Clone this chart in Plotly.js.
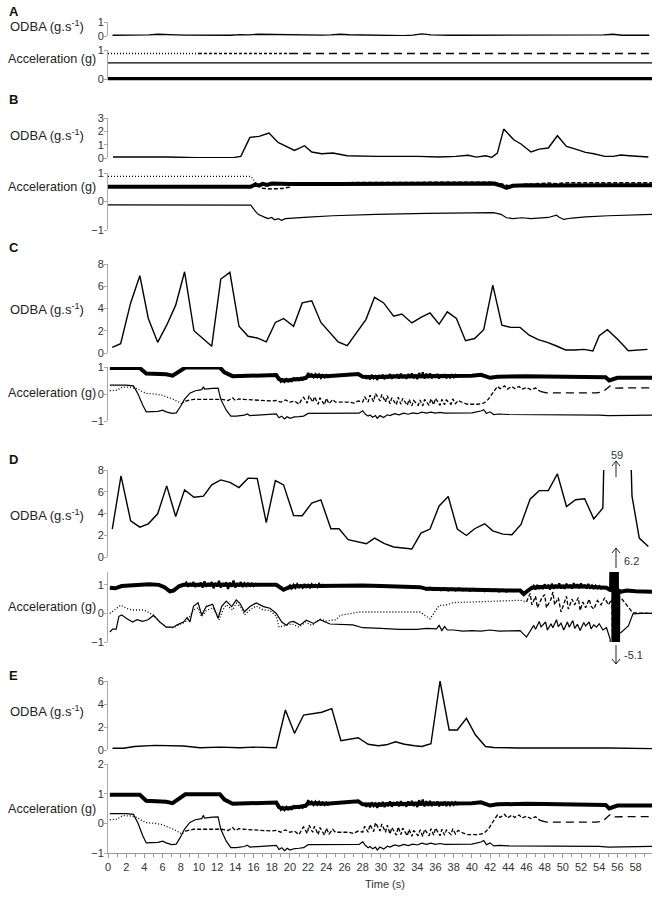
<!DOCTYPE html>
<html><head><meta charset="utf-8">
<script src="https://cdn.plot.ly/plotly-3.0.1.min.js"></script>
<style>html,body{margin:0;padding:0;background:#fff}</style>
</head><body><div id="chart" style="width:656px;height:897px"></div>
<script>
// ---------- DATA (time s, value) ----------
const odbaA = [[0.5,0.05],[1.5,0.05],[2.5,0.03],[3.5,0.04],[4.5,0.08],[5.5,0.12],[6.5,0.08],[7.5,0.08],[8.5,0.06],[9.5,0.05],
[10.5,0.05],[11.5,0.06],[12.5,0.06],[13.5,0.05],[14.5,0.1],[15.5,0.08],[16.5,0.13],[17.5,0.12],[18.5,0.06],[19.5,0.05],
[20.5,0.05],[21.5,0.05],[22.5,0.05],[23.5,0.06],[24.5,0.08],[25.5,0.12],[26.5,0.09],[27.5,0.08],[28.5,0.06],[29.5,0.05],
[30.5,0.04],[31.5,0.02],[32.5,0.03],[33.5,0.06],[34.5,0.15],[35.5,0.08],[36.5,0.09],[37.5,0.05],[38.5,0.05],[39.5,0.05],
[40.5,0.05],[41.5,0.05],[42.5,0.05],[43.5,0.06],[44.5,0.07],[45.5,0.08],[46.5,0.06],[47.5,0.05],[48.5,0.05],[49.5,0.05],
[50.5,0.05],[51.5,0.05],[52.5,0.05],[53.5,0.1],[54.5,0.08],[55.5,0.12],[56.5,0.05],[57.5,0.05],[58.5,0.05],[59.5,0.05]];
const accA_dot = [[0,0.88],[10,0.88]];
const accA_short = [[10,0.88],[20,0.88]];
const accA_dash = [[20,0.88],[59.8,0.88]];
const accA_thin = [[0,0.56],[59.8,0.56]];
const accA_thick = [[0,0],[59.8,0]];

const odbaB = [[0.55,0.08],[6.5,0.08],[9.7,0.02],[13.9,0.05],[14.6,0.12],[15.6,1.55],[16.6,1.62],[17.7,1.87],[18.7,1.17],[20.5,0.57],[21.6,0.92],[22.4,0.45],[23.5,0.32],[24.7,0.37],[26.3,0.17],[29.5,0.12],[34.1,0.12],[36.4,0.07],[38.2,0.12],[39.6,0.2],[40.5,0.07],[41.5,0.17],[42.2,0.05],[42.8,0.37],[43.5,2.17],[44.6,1.37],[45.4,1.05],[46.5,0.45],[47.4,0.67],[48.4,0.75],[49.4,1.67],[50.4,0.87],[51.4,0.67],[52.5,0.42],[53.4,0.32],[54.6,0.12],[55.5,0.12],[56.4,0.22],[57.3,0.17],[59.4,0.08]];
const accB_dot = [[0,0.88],[15.7,0.88],[16.0,0.76],[16.4,0.6]];
const accB_dash = [[16.4,0.6],[17,0.46],[18,0.44],[19.2,0.46],[19.9,0.5],[20.3,0.64],[25,0.66],[30,0.66],[35,0.67],[40,0.68],[42.4,0.68],[43.5,0.6],[44.2,0.54],[45,0.58],[47,0.63],[48.4,0.65],[49.3,0.62],[50,0.65],[52,0.66],[55,0.66],[59.8,0.66]];
const accB_thick = [[0,0.52],[15.7,0.52],[16.2,0.6],[16.6,0.56],[17,0.62],[17.5,0.58],[18,0.63],[19,0.62],[20,0.61],[25,0.61],[30,0.62],[35,0.62],[40,0.63],[42.4,0.63],[43.3,0.55],[43.8,0.48],[44.5,0.55],[46,0.57],[48,0.56],[50,0.57],[52,0.57],[55,0.57],[59.8,0.57]];
const accB_thin = [[0,-0.12],[15.7,-0.13],[16.1,-0.3],[16.5,-0.45],[17.2,-0.55],[17.6,-0.6],[18.0,-0.56],[18.3,-0.64],[18.7,-0.6],[19.1,-0.66],[19.5,-0.6],[20.3,-0.58],[22,-0.55],[24.7,-0.5],[29.5,-0.45],[35,-0.42],[42.4,-0.39],[43.2,-0.45],[43.8,-0.57],[44.5,-0.6],[45.5,-0.57],[46.5,-0.6],[48.4,-0.56],[49.3,-0.48],[49.6,-0.55],[50.1,-0.63],[51,-0.58],[52.5,-0.54],[55,-0.5],[59.8,-0.45]];

const odbaC = [[0.47,0.5],[1.39,0.84],[2.49,4.5],[3.5,6.95],[4.43,3.1],[5.46,0.96],[6.45,2.5],[7.44,4.3],[8.42,7.3],[9.45,2.0],[11.4,0.6],[12.4,6.65],[13.4,7.25],[14.4,2.4],[15.4,1.5],[16.4,1.35],[17.4,1.0],[18.4,2.75],[19.3,3.1],[20.4,2.4],[21.35,4.5],[22.4,4.7],[23.4,2.75],[24.4,1.85],[25.3,1.0],[26.3,0.66],[28.35,3.0],[29.3,5.0],[30.3,4.5],[31.4,3.3],[32.3,3.5],[33.4,2.7],[34.4,3.2],[35.4,3.6],[36.4,2.6],[37.3,3.7],[38.3,3.1],[39.3,1.1],[40.3,1.3],[41.3,2.1],[42.3,6.1],[43.3,2.5],[44.3,2.3],[45.3,2.3],[46.3,1.6],[47.3,1.2],[48.3,0.96],[49.3,0.63],[50.3,0.27],[51.3,0.27],[52.3,0.33],[53.3,0.18],[54.0,1.56],[54.9,2.1],[56.1,1.17],[57.2,0.2],[58.3,0.27],[59.3,0.33]];

// acceleration traces shared by panels C and E
const accCE_thick = [[0.2,0.96],[3.5,0.96],[4.2,0.76],[5.2,0.74],[5.8,0.76],[6.4,0.73],[7.1,0.68],[7.8,0.85],[8.5,0.98],[12.3,0.98],[12.8,0.8],[13.7,0.66],[16,0.68],[18.5,0.7],[18.8,0.55],[19.2,0.5],[19.6,0.51],[20,0.51],[20.5,0.55],[21,0.55],[21.7,0.59],[22.1,0.7],[22.5,0.67],[23,0.68],[24,0.66],[25,0.68],[26,0.68],[27,0.7],[27.5,0.74],[28,0.64],[29,0.62],[30,0.63],[31,0.65],[32,0.65],[33,0.66],[34,0.66],[34.7,0.68],[35.5,0.66],[36.5,0.65],[37.5,0.66],[38.5,0.67],[40,0.68],[41,0.71],[41.6,0.66],[42,0.6],[42.8,0.64],[44,0.66],[46,0.66],[48,0.65],[50,0.65],[52,0.65],[54,0.65],[54.7,0.62],[55.1,0.5],[55.5,0.54],[56,0.6],[58,0.6],[59.8,0.6]];
const accCE_noise = [[18.8,0.56],[19.0,0.46],[19.2,0.54],[19.4,0.45],[19.6,0.55],[19.8,0.47],[20.0,0.54],[20.2,0.48],[20.4,0.58],[20.6,0.52],[20.8,0.58],[21.0,0.52],[21.2,0.59],[21.4,0.53],[21.6,0.6],[21.8,0.58],[22.0,0.78],[22.2,0.62],[22.4,0.72],[22.6,0.62],[22.8,0.73],[23.0,0.63],[23.2,0.72],[23.4,0.6],[23.6,0.7],[23.8,0.62],[24.0,0.7],[24.2,0.63],[24.4,0.68],[null,null],
[28.2,0.70],[28.4,0.56],[28.6,0.68],[28.8,0.54],[29.0,0.71],[29.2,0.58],[29.4,0.66],[29.6,0.52],[29.8,0.70],[30.0,0.57],[30.2,0.72],[30.4,0.55],[30.6,0.69],[30.8,0.58],[31.0,0.74],[31.2,0.56],[31.4,0.71],[31.6,0.60],[31.8,0.73],[32.0,0.57],[32.2,0.75],[32.4,0.59],[32.6,0.70],[32.8,0.56],[33.0,0.74],[33.2,0.60],[33.4,0.76],[33.6,0.58],[33.8,0.72],[34.0,0.55],[34.2,0.78],[34.4,0.60],[34.6,0.80],[34.8,0.57],[35.0,0.75],[35.2,0.59],[35.4,0.76],[35.6,0.58],[35.8,0.72],[36.0,0.60],[36.2,0.74],[36.4,0.57],[36.6,0.71],[36.8,0.60],[37.0,0.73],[37.2,0.58],[37.4,0.72],[37.6,0.61],[37.8,0.70],[38.0,0.62],[38.2,0.71],[38.4,0.64],[38.6,0.68]];
const accCE_thin = [[0.2,0.33],[2.0,0.33],[2.8,0.3],[3.3,0.0],[3.8,-0.4],[4.2,-0.66],[5.5,-0.64],[6.0,-0.6],[6.4,-0.66],[7.0,-0.72],[7.5,-0.7],[7.9,-0.5],[8.4,-0.2],[9.0,0.03],[9.6,0.12],[10.3,0.16],[10.5,0.27],[10.6,0.18],[11.5,0.21],[12.1,0.22],[12.4,-0.2],[13.0,-0.6],[13.5,-0.82],[14.1,-0.82],[15,-0.78],[15.3,-0.74],[15.6,-0.8],[17,-0.76],[18.5,-0.74],[18.8,-0.88],[19.1,-0.82],[19.4,-0.92],[19.7,-0.84],[20,-0.9],[20.5,-0.85],[21,-0.84],[21.5,-0.82],[22,-0.72],[23,-0.72],[24.4,-0.71],[27.6,-0.71],[28,-0.62],[28.3,-0.75],[28.6,-0.82],[28.8,-0.78],[29.1,-0.86],[29.4,-0.8],[29.6,-0.9],[29.9,-0.8],[30.3,-0.87],[30.7,-0.77],[31,-0.8],[31.5,-0.73],[32,-0.77],[32.5,-0.71],[33,-0.75],[33.5,-0.7],[34,-0.73],[34.5,-0.67],[35,-0.71],[35.5,-0.67],[36,-0.71],[36.5,-0.68],[37,-0.71],[38,-0.7],[40,-0.7],[41,-0.63],[41.3,-0.58],[41.6,-0.72],[42,-0.66],[42.4,-0.76],[43,-0.74],[44,-0.76],[46,-0.76],[50,-0.76],[54,-0.78],[55,-0.8],[57,-0.79],[59.8,-0.78]];
const accCE_dot = [[0.2,0.12],[1.0,0.14],[1.6,0.26],[2.4,0.25],[3.2,0.2],[3.8,0.08],[4.3,0.02],[5.2,0.0],[6.0,-0.05],[6.6,-0.12],[7.2,-0.2],[7.8,-0.3],[8.1,-0.36],[8.5,-0.26]];
const accCE_mid = [[8.5,-0.26],[9.4,-0.2],[11,-0.2],[12.5,-0.2],[13.2,-0.24],[13.7,-0.14],[14,-0.24],[14.4,-0.18],[15,-0.2],[16,-0.22],[17,-0.24],[18,-0.26],[18.5,-0.24],[19,-0.3],[19.5,-0.22],[20,-0.3],[20.5,-0.26],[21,-0.38],[21.3,-0.2],[21.5,-0.12],[21.9,-0.34],[22.1,-0.06],[22.5,-0.3],[22.7,-0.1],[23.1,-0.38],[23.3,-0.14],[23.8,-0.4],[24,-0.16],[24.3,-0.36],[24.7,-0.2],[25,-0.3],[25.5,-0.3],[26,-0.32],[26.5,-0.3],[27,-0.34],[27.5,-0.26],[28,-0.3],[28.2,-0.1],[28.6,-0.3],[28.8,-0.04],[29.2,-0.28],[29.4,0.02],[29.9,-0.26],[30.1,-0.02],[30.5,-0.3],[30.7,-0.06],[31,-0.36],[31.2,-0.14],[31.7,-0.4],[31.9,-0.12],[32.2,-0.38],[32.4,-0.16],[32.9,-0.42],[33.1,-0.2],[33.4,-0.44],[33.6,-0.24],[34.1,-0.42],[34.3,-0.22],[34.6,-0.44],[34.8,-0.2],[35.3,-0.42],[35.5,-0.18],[35.8,-0.4],[36,-0.16],[36.5,-0.42],[36.7,-0.2],[37,-0.4],[37.2,-0.22],[37.7,-0.38],[37.9,-0.18],[38.2,-0.36],[38.5,-0.24],[39,-0.32],[39.5,-0.38],[40.6,-0.38],[41.3,-0.34],[41.8,-0.2],[42.2,0.0],[42.8,0.28],[43.1,0.2],[43.6,0.3],[43.9,0.18],[44.4,0.28],[44.7,0.2],[45.2,0.28],[45.5,0.18],[46,0.24],[46.5,0.16],[47,0.22],[47.5,0.1]];
const accCE_end = [[47.5,0.1],[48.2,0.04],[53.7,0.04],[54.4,0.08],[55.2,0.3],[55.7,0.22],[59.8,0.23]];

const odbaD = [[0.47,2.57],[1.43,7.46],[2.49,3.33],[3.5,2.75],[4.43,3.05],[5.46,3.97],[6.45,6.54],[7.44,3.73],[8.42,6.17],[9.45,5.5],[10.5,5.6],[11.4,6.63],[12.4,7.09],[13.4,6.87],[14.4,6.39],[15.4,7.25],[16.4,7.22],[17.4,3.17],[18.4,7.03],[19.3,6.63],[20.4,3.82],[21.35,3.8],[22.4,4.95],[23.4,5.26],[24.5,2.6],[25.4,2.6],[26.4,1.59],[28.4,1.22],[29.3,1.74],[30.4,1.22],[31.4,0.92],[33.4,0.73],[34.4,2.2],[35.4,2.57],[36.4,4.7],[37.4,5.56],[38.4,2.57],[39.4,1.98],[40.3,2.6],[41.4,3.05],[42.3,2.41],[43.4,2.1],[44.4,2.05],[45.4,3.0],[46.4,5.32],[47.4,6.1],[48.4,6.1],[49.4,7.64],[50.4,4.64],[51.4,5.26],[52.4,5.35],[53.4,3.51],[54.4,4.5],[55.8,59],[57.6,5.6],[58.4,1.74],[59.4,0.97]];
const accD_thick = [[0.2,0.9],[0.8,0.88],[1.5,0.96],[2.2,0.98],[3.5,1.0],[4.5,1.02],[5.6,1.0],[6.2,0.92],[6.8,0.77],[7.2,0.8],[7.8,0.95],[8.3,1.0],[12,1.0],[16,1.0],[18.5,1.0],[19.3,0.83],[19.8,0.9],[20.5,0.95],[22,0.96],[23.4,0.97],[24,0.97],[26,1.0],[28,0.98],[30,0.96],[32,0.93],[34.3,0.92],[35,0.86],[36,0.85],[38,0.84],[40,0.83],[42,0.82],[44,0.8],[45.3,0.8],[45.7,0.68],[46,0.76],[46.6,0.9],[48,0.93],[50,0.94],[52,0.95],[54.2,0.91],[54.8,0.9],[55.3,0.8],[55.5,6.2],[55.6,-5.1],[55.7,6.2],[55.8,-5.1],[55.9,6.2],[56.0,-5.1],[56.1,0.8],[56.4,0.76],[57,0.8],[58,0.78],[59,0.76],[59.8,0.76]];
const accD_noise = [[8.4,1.0],[8.6,1.08],[8.8,0.93],[9.0,1.06],[9.2,0.95],[9.4,1.1],[9.6,0.92],[9.8,1.05],[10.0,0.94],[10.2,1.08],[10.4,0.9],[10.6,1.12],[10.8,0.93],[11.0,1.06],[11.2,0.95],[11.4,1.1],[11.6,0.88],[11.8,1.07],[12.0,0.94],[12.2,1.14],[12.4,0.9],[12.6,1.06],[12.8,0.95],[13.0,1.09],[13.2,0.86],[13.4,1.08],[13.6,0.93],[13.8,1.15],[14.0,0.9],[14.2,1.06],[14.4,0.95],[14.6,1.1],[14.8,0.92],[15.0,1.05],[15.2,0.96],[15.4,1.07],[15.6,0.94],[15.8,1.04],[16.0,0.96],[16.2,1.03],[16.4,0.98],[16.6,1.02],[null,null],
[19.8,0.9],[20.0,0.98],[20.2,0.88],[20.4,1.0],[20.6,0.9],[20.8,1.02],[21.0,0.92],[21.2,0.99],[21.4,0.9],[21.6,1.03],[21.8,0.93],[22.0,1.0],[22.2,0.91],[22.4,1.02],[22.6,0.94],[22.8,1.0],[23.0,0.92],[23.2,1.03],[23.4,0.95],[23.6,1.0],[23.8,0.94],[24.0,0.99],[null,null],
[34.6,0.9],[35.0,0.84],[35.4,0.9],[35.8,0.82],[36.2,0.88],[36.6,0.81],[37.0,0.88],[37.4,0.8],[37.8,0.87],[38.2,0.8],[38.6,0.87],[39.0,0.81],[39.4,0.86],[39.8,0.79],[40.2,0.86],[40.6,0.79],[41.0,0.85],[41.4,0.78],[41.8,0.85],[42.2,0.78],[42.6,0.84],[43.0,0.77],[43.4,0.83],[43.8,0.77],[44.2,0.82],[44.6,0.78],[45.0,0.81],[null,null],
[46.6,0.86],[46.8,0.96],[47.0,0.84],[47.2,1.0],[47.4,0.86],[47.6,0.98],[47.8,0.85],[48.0,1.02],[48.2,0.88],[48.4,0.97],[48.6,0.84],[48.8,1.04],[49.0,0.86],[49.2,1.0],[49.4,0.88],[49.6,1.05],[49.8,0.87],[50.0,0.99],[50.2,0.86],[50.4,1.04],[50.6,0.9],[50.8,1.0],[51.0,0.87],[51.2,1.06],[51.4,0.9],[51.6,1.02],[51.8,0.88],[52.0,1.05],[52.2,0.9],[52.4,1.0],[52.6,0.87],[52.8,1.03],[53.0,0.9],[53.2,0.98],[53.4,0.86],[53.6,0.97],[53.8,0.88],[54.0,0.95],[54.2,0.87],[54.4,0.92]];
const accD_thin = [[0.2,-0.65],[0.5,-0.55],[0.9,-0.55],[1.2,-0.1],[1.5,-0.05],[2,-0.17],[2.7,-0.3],[3.2,-0.22],[3.8,-0.28],[4.4,-0.22],[5.0,-0.07],[5.4,-0.2],[5.7,-0.3],[6.4,-0.48],[7.2,-0.48],[7.6,-0.4],[8.3,-0.3],[8.7,-0.14],[9.0,-0.3],[9.4,0.25],[9.9,0.37],[10.3,-0.06],[10.8,0.24],[11.5,0.32],[11.8,0.1],[12.1,-0.17],[12.5,0.25],[13.0,0.43],[13.6,0.24],[14.1,0.47],[14.5,0.35],[15.0,0.06],[15.6,0.24],[16.3,0.37],[17.1,0.24],[17.8,0.18],[18.5,0.0],[19.1,-0.3],[19.6,-0.41],[20.0,-0.3],[20.4,-0.28],[21.1,-0.41],[21.8,-0.24],[22.6,-0.35],[23.3,-0.22],[24.0,-0.3],[24.4,-0.37],[26.9,-0.4],[28,-0.5],[30,-0.52],[32,-0.56],[34,-0.56],[35,-0.52],[36.1,-0.54],[36.4,-0.42],[36.7,-0.6],[37,-0.46],[37.3,-0.58],[38,-0.58],[39,-0.62],[40,-0.6],[41,-0.62],[42,-0.58],[43,-0.62],[44,-0.6],[45.3,-0.6],[46,-0.83],[46.5,-0.6],[46.8,-0.42],[47.0,-0.55],[47.4,-0.28],[47.6,-0.47],[48.1,-0.3],[48.3,-0.58],[48.7,-0.36],[48.9,-0.5],[49.3,-0.22],[49.5,-0.46],[49.8,-0.34],[50.1,-0.58],[50.5,-0.3],[50.7,-0.48],[51.1,-0.25],[51.3,-0.52],[51.6,-0.38],[51.9,-0.6],[52.3,-0.32],[52.5,-0.44],[52.9,-0.3],[53.1,-0.54],[53.4,-0.4],[53.7,-0.48],[54,-0.36],[54.4,-0.58],[54.8,-0.5],[55.2,-0.9],[55.5,-5.1],[55.7,6.2],[55.9,-5.1],[56.1,-0.7],[56.4,-0.67],[57.2,-0.44],[57.7,-0.02],[58.6,0.0],[59.8,0.0]];
const accD_dot = [[0.2,0.0],[0.7,0.12],[1.4,0.29],[2,0.18],[2.7,0.12],[3.8,0.12],[4.2,0.08],[5,-0.06],[5.7,-0.3],[6.4,-0.48],[7.2,-0.5],[7.9,-0.38],[8.5,-0.3],[9.0,-0.1],[9.4,0.12],[9.9,0.2],[10.3,-0.12],[10.8,0.1],[11.5,0.2],[11.9,0.0],[12.2,-0.22],[12.6,0.1],[13.0,0.3],[13.7,0.12],[14.1,0.36],[14.6,0.22],[15.0,-0.05],[15.6,0.12],[16.3,0.26],[17.1,0.12],[17.8,0.1],[18.5,-0.1],[18.8,-0.48],[19.5,-0.42],[20.2,-0.36],[21,-0.48],[21.7,-0.3],[22.4,-0.42],[23.3,-0.2],[24,-0.26],[25.1,-0.22],[25.5,-0.07],[27.6,0.05],[30,0.05],[32,0.04],[34.3,0.05],[35.4,-0.19],[36.4,0.28],[37.2,0.3],[38,0.38],[40,0.4],[42,0.42],[44,0.44],[45.3,0.46],[46,0.4]];
const accD_dash = [[46,0.4],[46.4,0.7],[46.6,0.3],[47,0.6],[47.2,0.2],[47.7,0.55],[48,0.66],[48.2,0.2],[48.7,0.5],[48.9,0.75],[49.1,0.3],[49.5,0.55],[49.8,0.05],[50.2,0.45],[50.4,0.6],[50.6,0.15],[51,0.5],[51.3,0.3],[51.7,0.55],[51.9,0.1],[52.2,0.4],[52.5,0.2],[52.9,0.5],[53.1,0.25],[53.4,0.15],[53.8,0.45],[54.2,0.3],[54.6,0.55],[55,0.3],[55.4,0.5],[55.6,-5.1],[55.8,6.2],[56.0,0.6],[56.4,0.54],[57.0,0.3],[57.7,0.02],[59.8,0.0]];

const odbaE = [[0.5,0.15],[1.7,0.15],[2.9,0.3],[3.9,0.35],[5.2,0.4],[8.3,0.35],[10.1,0.2],[12.3,0.25],[14.5,0.2],[16.0,0.25],[17.4,0.2],[18.5,0.2],[19.5,3.48],[20.5,1.45],[21.5,3.04],[23.5,3.28],[24.6,3.6],[25.6,0.8],[27.5,1.07],[28.6,0.5],[29.7,0.37],[30.6,0.45],[31.6,0.72],[32.6,0.5],[33.7,0.37],[34.5,0.31],[35.5,0.54],[36.5,6.0],[37.5,1.74],[38.4,1.74],[39.4,2.75],[40.4,1.3],[41.5,0.3],[42.4,0.22],[45,0.18],[50,0.2],[55,0.18],[59.8,0.12]];

const xTickLabels = ['0','2','4','6','8','10','12','14','16','18','20','22','24','26','28','30','32','34','36','38','40','42','44','46','48','50','52','54','56','58'];
const xTickVals = [0,2,4,6,8,10,12,14,16,18,20,22,24,26,28,30,32,34,36,38,40,42,44,46,48,50,52,54,56,58];
const panelLetters = ['A','B','C','D','E'];
const odbaLabel = 'ODBA (g.s<sup>-1</sup>)';
const accLabel = 'Acceleration (g)';

// ---------- LAYOUT GEOMETRY ----------
const H = 897, L = 108, PW = 544;
const py = p => 1 - p / H;
const px = p => (p - L) / PW;
function dom(top, bot){ return [py(bot), py(top)]; }

const axes = [
  {d:dom(22,36),  r:[0,1],      t:[0,1]},
  {d:dom(50,80.2),r:[-0.04,1],  t:[0,1]},
  {d:dom(118,158),r:[0,3],      t:[0,1,2,3]},
  {d:dom(173,230),r:[-1,1],     t:[-1,0,1]},
  {d:dom(264,353),r:[0,8],      t:[0,2,4,6,8]},
  {d:dom(367,421),r:[-1,1],     t:[-1,0,1]},
  {d:dom(470,557),r:[0,8],      t:[0,2,4,6,8]},
  {d:dom(572,642),r:[-1,1.45],  t:[-1,0,1]},
  {d:dom(681,750),r:[0,6],      t:[0,2,4,6]},
  {d:dom(764,853),r:[-1,2],     t:[-1,0,1,2]}
];

function tr(pts, n, width, dash){
  return {x: pts.map(p=>p[0]), y: pts.map(p=>p[1]), xaxis:'x', yaxis: n===1?'y':'y'+n,
    type:'scatter', mode:'lines', connectgaps:false, line:{color:'#000', width:width, dash:dash||'solid'},
    hoverinfo:'skip', showlegend:false};
}
const DOT = '1px,2px', SDASH = '3px,2px', MDASH = '4px,2px', LDASH = '8px,5px';
const W_ODBA = 1.4, W_THIN = 1.2, W_DASH = 1.3, W_THICK = 4, W_NOISE = 2.2;

const data = [
  tr(odbaA,1,W_ODBA),
  tr(accA_dot,2,W_DASH,DOT), tr(accA_short,2,W_DASH,SDASH), tr(accA_dash,2,W_DASH,LDASH),
  tr(accA_thin,2,W_THIN), tr(accA_thick,2,W_THICK),
  tr(odbaB,3,W_ODBA),
  tr(accB_thin,4,W_THIN), tr(accB_dot,4,W_DASH,DOT), tr(accB_thick,4,W_THICK), tr(accB_dash,4,1.5,MDASH),
  tr(odbaC,5,W_ODBA),
  tr(accCE_thin,6,W_THIN), tr(accCE_dot,6,W_DASH,DOT), tr(accCE_mid,6,W_DASH,MDASH), tr(accCE_end,6,W_DASH,LDASH), tr(accCE_thick,6,W_THICK), tr(accCE_noise,6,W_NOISE),
  tr(odbaD,7,W_ODBA),
  tr(accD_thin,8,W_THIN), tr(accD_dot,8,W_DASH,DOT), tr(accD_dash,8,W_DASH,MDASH), tr(accD_thick,8,W_THICK), tr(accD_noise,8,W_NOISE),
  tr(odbaE,9,W_ODBA),
  tr(accCE_thin,10,W_THIN), tr(accCE_dot,10,W_DASH,DOT), tr(accCE_mid,10,W_DASH,MDASH), tr(accCE_end,10,W_DASH,LDASH), tr(accCE_thick,10,W_THICK), tr(accCE_noise,10,W_NOISE)
];

const FONT = 'Liberation Sans, Arial, sans-serif';
const layout = {
  width:656, height:897, margin:{l:L, r:4, t:0, b:0},
  paper_bgcolor:'#fff', plot_bgcolor:'rgba(0,0,0,0)',
  font:{family:FONT, size:11, color:'#333'},
  showlegend:false,
  xaxis:{range:[0,59.8], anchor:'y10', showline:true, linecolor:'#999', linewidth:1,
    ticks:'outside', ticklen:4, tickcolor:'#999', tickvals:xTickVals, ticktext:xTickLabels,
    minor:{dtick:1, tick0:0, ticks:'outside', ticklen:3, tickcolor:'#999'},
    showgrid:false, zeroline:false, tickfont:{family:FONT, size:11, color:'#333'}, fixedrange:true}
};
axes.forEach((a,i)=>{
  layout['yaxis'+(i===0?'':(i+1))] = {domain:a.d, range:a.r, tickvals:a.t, anchor:'x',
    showline:true, linecolor:'#aaa', linewidth:1, ticks:'outside', ticklen:3, tickcolor:'#aaa',
    ticklabelstandoff:-2,
    showgrid:false, zeroline:false, tickfont:{family:FONT, size:11, color:'#333'}, fixedrange:true};
});

const letterY = [12,99,248,459,675];
const odbaY = [26,135,309,515,711];
const accY = [59,187,393,607,809];
const ann = [];
function txt(t, x, y, opts){
  ann.push(Object.assign({text:t, xref:'paper', yref:'paper', x:px(x), y:py(y), xanchor:'left', yanchor:'middle',
    showarrow:false, font:{family:FONT, size:13, color:'#222'}}, opts||{}));
}
panelLetters.forEach((l,i)=>{
  txt('<b>'+l+'</b>', 7, letterY[i], {font:{family:FONT, size:13, color:'#111'}});
  txt(odbaLabel, 8, odbaY[i]);
  txt(accLabel, 6, accY[i], {font:{family:FONT, size:12.6, color:'#222'}});
});
txt('Time (s)', 363, 884, {font:{family:FONT, size:11, color:'#333'}});
// off-scale markers in panel D
txt('59', 609, 455, {font:{family:FONT, size:11, color:'#333'}});
txt('6.2', 622, 561, {font:{family:FONT, size:11, color:'#333'}});
txt('-5.1', 622, 655, {font:{family:FONT, size:11, color:'#333'}});
layout.annotations = ann;

// thin open arrows (decoration, paper pixel positions)
const shapes = [];
function seg(x0,y0,x1,y1){
  shapes.push({type:'line', xref:'paper', yref:'paper', x0:px(x0), y0:py(y0), x1:px(x1), y1:py(y1),
    line:{color:'#222', width:1}});
}
function arrow(x, yHead, yTail){
  const d = yTail > yHead ? 5 : -5;
  seg(x, yTail, x, yHead);
  seg(x-4, yHead+d, x, yHead);
  seg(x+4, yHead+d, x, yHead);
}
arrow(616, 461, 477);
arrow(616, 548, 568);
arrow(616, 664, 645);
layout.shapes = shapes;

Plotly.newPlot('chart', data, layout, {staticPlot:true, displayModeBar:false});
</script>
</body></html>
